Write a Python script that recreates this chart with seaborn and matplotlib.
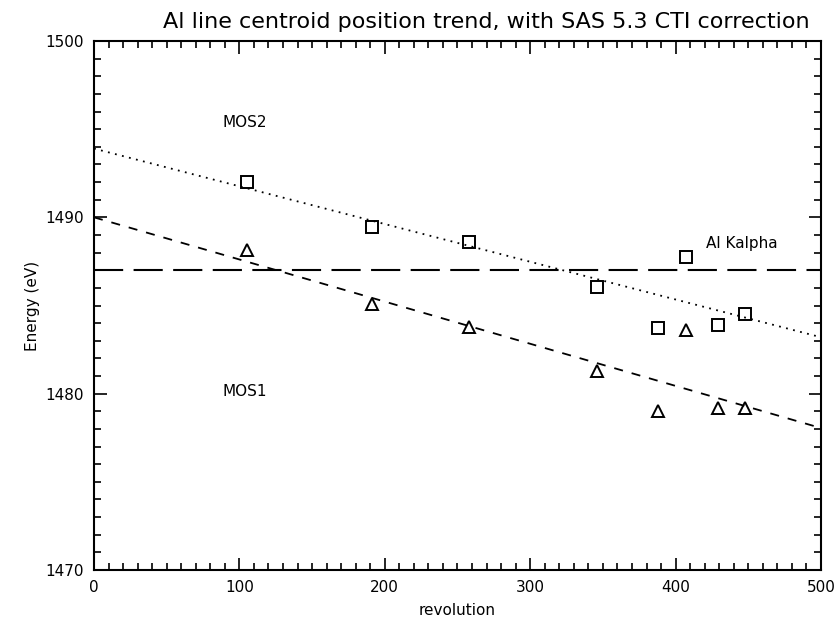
import matplotlib
matplotlib.use("Agg")
import matplotlib.pyplot as plt
import seaborn as sns
import pandas as pd
from matplotlib.ticker import MultipleLocator

# Data
revolution = [105, 191, 258, 346, 388, 407, 429, 448]
mos2_energy = [1492.0, 1489.45, 1488.6, 1486.05, 1483.7, 1487.75, 1483.9, 1484.5]
mos1_energy = [1488.15, 1485.1, 1483.8, 1481.3, 1479.0, 1483.6, 1479.2, 1479.2]

fit_x = [0, 500]
mos2_fit = [1493.9, 1483.2]
mos1_fit = [1490.0, 1478.05]

al_kalpha_x = [0, 500]
al_kalpha_y = [1487.0, 1487.0]

sns.set_style("ticks")
plt.rcParams["font.family"] = ["DejaVu Sans"]
plt.rcParams["text.color"] = "black"
plt.rcParams["axes.labelcolor"] = "black"
plt.rcParams["xtick.color"] = "black"
plt.rcParams["ytick.color"] = "black"

fig = plt.figure(figsize=(8.37, 6.24), dpi=100)
ax = fig.add_axes([94 / 837, 1 - 570 / 624, 727 / 837, 529 / 624])

pts = pd.DataFrame({"rev": revolution, "mos2": mos2_energy, "mos1": mos1_energy})
fits = pd.DataFrame({"x": fit_x, "mos2": mos2_fit, "mos1": mos1_fit})
al = pd.DataFrame({"x": al_kalpha_x, "y": al_kalpha_y})

sns.lineplot(data=fits, x="x", y="mos2", ax=ax, color="black", lw=1.3,
             linestyle=(0, (1, 3)))
sns.lineplot(data=fits, x="x", y="mos1", ax=ax, color="black", lw=1.3,
             linestyle=(0, (5, 5)))
sns.lineplot(data=al, x="x", y="y", ax=ax, color="black", lw=1.5,
             linestyle=(0, (14, 5)))

ax.plot(pts["rev"], pts["mos2"], linestyle="none", marker="s", ms=9,
        mfc="none", mec="black", mew=1.4)
ax.plot(pts["rev"], pts["mos1"], linestyle="none", marker="^", ms=9,
        mfc="none", mec="black", mew=1.4)

ax.set_xlim(0, 500)
ax.set_ylim(1470, 1500)
ax.xaxis.set_major_locator(MultipleLocator(100))
ax.xaxis.set_minor_locator(MultipleLocator(10))
ax.yaxis.set_major_locator(MultipleLocator(10))
ax.yaxis.set_minor_locator(MultipleLocator(1))
ax.tick_params(which="both", direction="in", top=True, right=True,
               labelsize=11, color="black", labelcolor="black", width=1.2)
ax.tick_params(which="major", length=9, pad=7)
ax.tick_params(which="minor", length=5)
for s in ax.spines.values():
    s.set_linewidth(1.5)
    s.set_color("black")

ax.set_xlabel("revolution", fontsize=11, labelpad=6)
ax.set_ylabel("Energy (eV)", fontsize=11, labelpad=4)
ax.set_title("Al line centroid position trend, with SAS 5.3 CTI correction",
             fontsize=16, x=0.539, y=1.0, pad=9)

ax.text(104, 1495.4, "MOS2", ha="center", va="center", fontsize=11)
ax.text(104, 1480.1, "MOS1", ha="center", va="center", fontsize=11)
ax.text(421, 1488.5, "Al Kalpha", ha="left", va="center", fontsize=11)

fig.savefig("out.png", dpi=100)
